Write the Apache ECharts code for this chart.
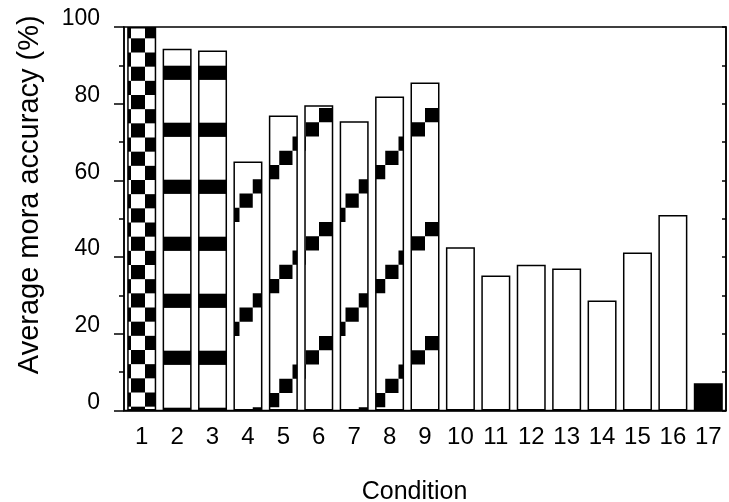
<!DOCTYPE html>
<html><head><meta charset="utf-8">
<script src="https://cdn.jsdelivr.net/npm/echarts@6/dist/echarts.min.js"></script>
<style>html,body{margin:0;padding:0;background:#fff}#c{width:729px;height:502px}</style>
</head><body><div id="c"></div>
<script>
const categories = ['1','2','3','4','5','6','7','8','9','10','11','12','13','14','15','16','17'];
const accuracy = [100, 94.3, 93.9, 64.9, 76.9, 79.6, 75.4, 81.9, 85.5, 42.6, 35.2, 38.0, 37.0, 28.7, 41.2, 51.0, 7.1];
const fillKinds = ['checker','stripes','stripes','diagonal','diagonal','diagonal','diagonal','diagonal','diagonal','plain','plain','plain','plain','plain','plain','plain','solid'];
const yTickLabels = [0, 20, 40, 60, 80, 100];

function tile(w, h, draw) {
  const c = document.createElement('canvas');
  c.width = w; c.height = h;
  const g = c.getContext('2d');
  g.fillStyle = '#fff'; g.fillRect(0, 0, w, h);
  g.fillStyle = '#000';
  draw(g, w, h);
  return c;
}
function wrapRect(g, W, H, x, y, w, h) {
  x = ((x % W) + W) % W; y = ((y % H) + H) % H;
  for (const dx of [0, -W]) for (const dy of [0, -H]) g.fillRect(x + dx, y + dy, w, h);
}
const checkerTile = tile(28, 85, (g, W, H) => {
  const ch = H / 6;
  for (let k = 0; k < 6; k++) wrapRect(g, W, H, k % 2 === 0 ? 19 : 5, 10 + k * ch, 14, ch);
});
const stripeTile = tile(8, 57, (g, W, H) => { wrapRect(g, W, H, 0, 8.7, 8, 14.2); });
const diagTile = tile(106, 114, (g, W, H) => {
  for (let i = 0; i < 8; i++) wrapRect(g, W, H, 425 + i * 13.25, 108 - i * 14.25, 13.25, 14.25);
});
const fills = {
  checker: { image: checkerTile, repeat: 'repeat' },
  stripes: { image: stripeTile, repeat: 'repeat' },
  diagonal: { image: diagTile, repeat: 'repeat' },
  plain: '#ffffff',
  solid: '#000000'
};
const fontFam = "'Liberation Sans', Arial, sans-serif";

const chart = echarts.init(document.getElementById('c'), null, { renderer: 'canvas' });
chart.setOption({
  animation: false,
  backgroundColor: '#fff',
  grid: { left: 124, right: 3, top: 27, bottom: 91.5, containLabel: false, outerBoundsMode: 'none',
          show: true, borderColor: '#000', borderWidth: 1.5, backgroundColor: 'transparent' },
  xAxis: {
    type: 'category', data: categories, boundaryGap: true,
    name: 'Condition', nameLocation: 'middle', nameGap: 69,
    nameTextStyle: { fontFamily: fontFam, fontSize: 25, color: '#000', padding: [0, 21, 0, 0] },
    axisLine: { show: true, lineStyle: { color: '#000', width: 1.5 } },
    axisTick: { show: false },
    axisLabel: { fontFamily: fontFam, fontSize: 24, color: '#000', margin: 15, interval: 0 },
    splitLine: { show: false }
  },
  yAxis: [{
    type: 'value', min: yTickLabels[0], max: yTickLabels[yTickLabels.length - 1], interval: 20,
    name: 'Average mora accuracy (%)', nameLocation: 'middle', nameGap: 80,
    nameTextStyle: { fontFamily: fontFam, fontSize: 29, color: '#000', padding: [0, 0, 0, 48] },
    axisLine: { show: true, lineStyle: { color: '#000', width: 1.5 } },
    axisTick: { show: true, inside: false, length: 10, lineStyle: { color: '#000', width: 1.5 } },
    minorTick: { show: true, splitNumber: 2, length: 5, lineStyle: { color: '#000', width: 1.5 } },
    axisLabel: { fontFamily: fontFam, fontSize: 23, color: '#000', margin: 24, verticalAlign: 'bottom', lineHeight: 16 },
    splitLine: { show: false }, minorSplitLine: { show: false }
  }, {
    type: 'value', position: 'right', min: 0, max: 100, interval: 10,
    axisLine: { show: true, lineStyle: { color: '#000', width: 1.5 } },
    axisTick: { show: true, inside: true, length: 4, lineStyle: { color: '#000', width: 1.5 } },
    axisLabel: { show: false }, splitLine: { show: false }
  }],
  series: [{
    type: 'bar', barWidth: 29, yAxisIndex: 0,
    data: accuracy.map((v, i) => ({ value: v, itemStyle: { color: fills[fillKinds[i]] } })),
    itemStyle: { borderColor: '#000', borderWidth: 1.5 },
    emphasis: { disabled: true }
  }]
});
</script></body></html>
